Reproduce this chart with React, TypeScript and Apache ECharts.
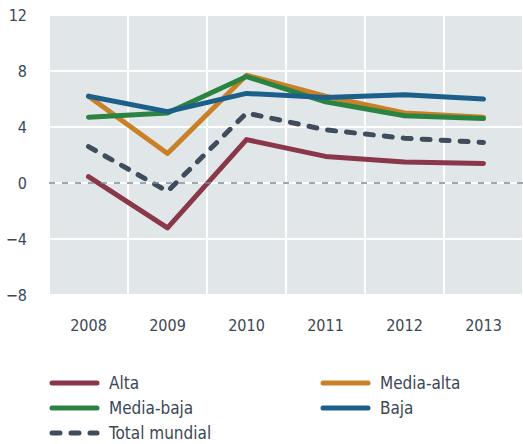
import React, { useEffect, useRef } from "react";
import * as echarts from "echarts";

const years = ["2008", "2009", "2010", "2011", "2012", "2013"];
const alta = [0.45, -3.2, 3.1, 1.9, 1.5, 1.4];
const mediaAlta = [6.2, 2.1, 7.7, 6.2, 5.0, 4.7];
const mediaBaja = [4.7, 5.0, 7.6, 5.8, 4.8, 4.6];
const baja = [6.2, 5.1, 6.4, 6.1, 6.3, 6.0];
const total = [2.6, -0.6, 5.0, 3.8, 3.2, 2.9];

const FONT = "'DejaVu Sans Condensed', 'Liberation Sans Narrow', 'Open Sans', sans-serif";
const TXT = "#3b4756";

export default function App() {
  const ref = useRef<HTMLDivElement>(null);
  useEffect(() => {
    const chart = echarts.init(ref.current!, null, { renderer: "svg" });
    const mk = (name: string, data: number[], color: string, dashed = false) => ({
      name,
      type: "line",
      data,
      symbol: "none",
      lineStyle: {
        color,
        width: 5,
        type: dashed ? [8, 11] : "solid",
        cap: "round",
        join: "round",
      },
      itemStyle: { color },
      z: dashed ? 1 : 2,
    });
    const leg = (name: string, left: number, top: number) => ({
      orient: "horizontal",
      left,
      top,
      padding: 0,
      data: [name],
      itemWidth: 45,
      itemHeight: 18,
      itemStyle: { opacity: 0 },
      lineStyle: { width: 5, cap: "round" },
      textStyle: { color: TXT, fontSize: 17, fontFamily: FONT, lineHeight: 18, padding: [0, 0, 0, 7] },
    });
    chart.setOption({
      animation: false,
      textStyle: { fontFamily: FONT },
      grid: { left: 49, right: -10, top: 15, bottom: 149, containLabel: false, show: true, backgroundColor: "#e1e6e9", borderWidth: 0 },
      xAxis: {
        type: "category",
        data: years,
        boundaryGap: true,
        axisLine: { show: false },
        axisTick: { show: false },
        axisLabel: { color: TXT, fontSize: 16, margin: 22, fontFamily: FONT },
        splitLine: { show: true, interval: 0, lineStyle: { color: "#ffffff", width: 2 } },
      },
      yAxis: {
        type: "value",
        min: -8,
        max: 12,
        interval: 4,
        axisLine: { show: false },
        axisTick: { show: false },
        axisLabel: {
          color: TXT,
          fontSize: 16,
          margin: 22,
          fontFamily: FONT,
          formatter: (v: number) => (v < 0 ? "\u2212" + Math.abs(v) : String(v)),
        },
        splitLine: { lineStyle: { color: "#ffffff", width: 2 } },
      },
      legend: [
        leg("Alta", 49.5, 374),
        leg("Media-baja", 49.5, 399),
        leg("Total mundial", 49.5, 424),
        leg("Media-alta", 320.5, 374),
        leg("Baja", 320.5, 399),
      ],
      series: [
        {
          ...mk("Total mundial", total, "#3e4c5b", true),
          markLine: {
            silent: true,
            symbol: "none",
            label: { show: false },
            lineStyle: { color: "#7b8a9b", type: [6, 7], width: 1.5, cap: "butt" },
            data: [{ yAxis: 0 }],
          },
        },
        mk("Alta", alta, "#8a3849"),
        mk("Media-alta", mediaAlta, "#c98128"),
        mk("Media-baja", mediaBaja, "#2b8342"),
        mk("Baja", baja, "#1d5f8b"),
      ],
    });
    return () => chart.dispose();
  }, []);
  return <div ref={ref} style={{ width: 523, height: 444, position: "absolute", left: 0, top: 0 }} />;
}
